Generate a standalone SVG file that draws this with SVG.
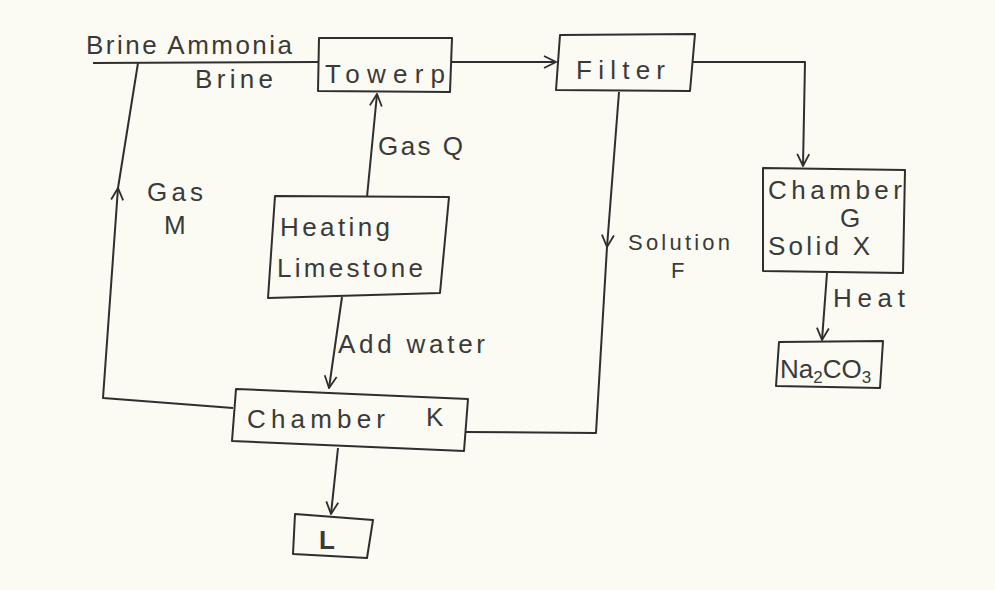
<svg xmlns="http://www.w3.org/2000/svg" width="995" height="590" viewBox="0 0 995 590">
<style>
.bg{fill:#fbfaf3}
.box{fill:none;stroke:#2e2e2e;stroke-width:2;stroke-linejoin:round}
.ln{fill:none;stroke:#2e2e2e;stroke-width:2;stroke-linejoin:round}
.t{font-family:"Liberation Sans","DejaVu Sans",sans-serif;font-size:26px;fill:#3a3a3a}
.s{font-size:22px}
.sub{font-size:17px}
</style>
<defs>
<marker id="v" viewBox="0 0 14 14" refX="13" refY="7" markerWidth="14" markerHeight="14" markerUnits="userSpaceOnUse" orient="auto">
<path d="M1,1 L13,7 L1,13" fill="none" stroke="#2e2e2e" stroke-width="1.8"/>
</marker>
</defs>
<rect class="bg" x="0" y="0" width="995" height="590"/>

<g id="connectors">
<line class="ln" x1="93" y1="63" x2="318" y2="62"/>
<path class="ln" d="M452,62 L556,62" marker-end="url(#v)"/>
<path class="ln" d="M693,62 L805,62 L803,166" marker-end="url(#v)"/>
<path class="ln" d="M827,273 L822,340" marker-end="url(#v)"/>
<path class="ln" d="M367,197 L377,94" marker-end="url(#v)"/>
<path class="ln" d="M342,297 L329,388" marker-end="url(#v)"/>
<path class="ln" d="M338,448 L331,514" marker-end="url(#v)"/>
<path class="ln" d="M233,408 L103,398 L118,188" marker-end="url(#v)"/>
<path class="ln" d="M118,188 L138,63"/>
<path class="ln" d="M619,92 L607,247" marker-end="url(#v)"/>
<path class="ln" d="M607,247 L596,433 L466,432"/>
</g>

<g id="labels">
<text class="t" x="86" y="54" font-size="28" textLength="206" lengthAdjust="spacing">Brine Ammonia</text>
<text class="t" x="195" y="88" textLength="78" lengthAdjust="spacing">Brine</text>
<text class="t" x="378" y="155" textLength="85" lengthAdjust="spacing">Gas Q</text>
<text class="t" x="147" y="201" font-size="27" textLength="56" lengthAdjust="spacing">Gas</text>
<text class="t" x="164" y="234" font-size="22">M</text>
<text class="t" x="338" y="353" textLength="147" lengthAdjust="spacing">Add water</text>
<text class="t s" x="628" y="250" textLength="102" lengthAdjust="spacing">Solution</text>
<text class="t s" x="671" y="278">F</text>
<text class="t" x="833" y="307" textLength="72" lengthAdjust="spacing">Heat</text>
</g>

<g id="tower-p">
<path class="box" d="M319,38 L452,38 L450,92 L318,91 Z"/>
<text class="t" x="325" y="83" font-size="32" textLength="120" lengthAdjust="spacing">Towerp</text>
</g>

<g id="filter">
<path class="box" d="M560,35 L695,34 L690,91 L556,90 Z"/>
<text class="t" x="576" y="79" font-size="30" textLength="89" lengthAdjust="spacing">Filter</text>
</g>

<g id="chamber-g">
<path class="box" d="M763,168 L905,170 L903,273 L763,271 Z"/>
<text class="t" x="768" y="199" font-size="25" textLength="134" lengthAdjust="spacing">Chamber</text>
<text class="t" x="840" y="227" font-size="19">G</text>
<text class="t" x="768" y="255" font-size="24" textLength="102" lengthAdjust="spacing">Solid X</text>
</g>

<g id="na2co3">
<path class="box" d="M779,342 L883,341 L880,388 L776,386 Z"/>
<text class="t" x="780" y="378">Na<tspan class="sub" dy="5">2</tspan><tspan dy="-5">CO</tspan><tspan class="sub" dy="5">3</tspan></text>
</g>

<g id="heating-limestone">
<path class="box" d="M275,196 L449,197 L440,293 L268,298 Z"/>
<text class="t" x="280" y="236" font-size="24" textLength="110" lengthAdjust="spacing">Heating</text>
<text class="t" x="277" y="277" textLength="146" lengthAdjust="spacing">Limestone</text>
</g>

<g id="chamber-k">
<path class="box" d="M236,389 L468,399 L464,451 L232,441 Z"/>
<text class="t" x="247" y="428" font-size="28" textLength="138" lengthAdjust="spacing">Chamber</text>
<text class="t" x="426" y="426" font-size="19">K</text>
</g>

<g id="l">
<path class="box" d="M295,514 L373,520 L367,558 L293,554 Z"/>
<text class="t" x="319" y="549" font-size="26" font-weight="bold">L</text>
</g>
</svg>
